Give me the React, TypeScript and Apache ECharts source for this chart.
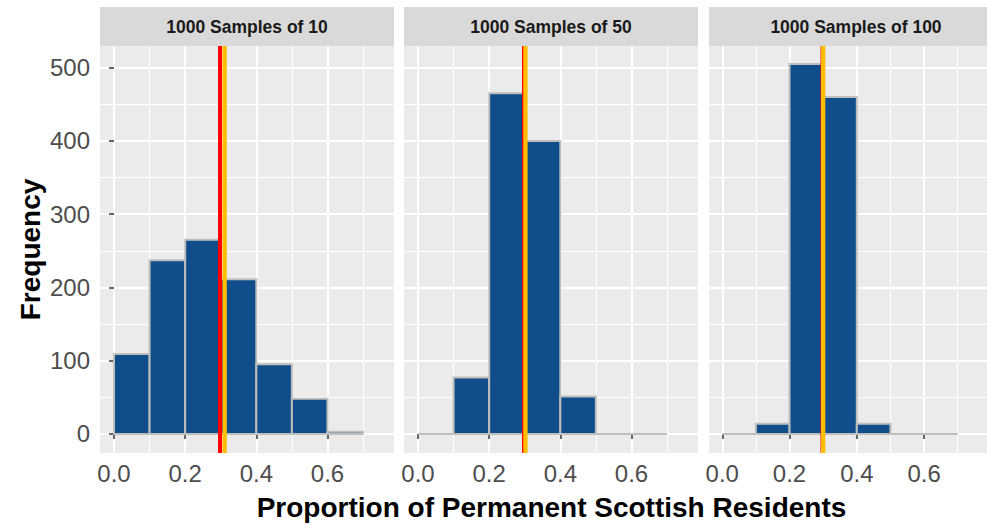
import React, { useEffect, useRef } from "react";
import * as echarts from "echarts";

// ---- data ----
const binEdges = [0, 0.1, 0.2, 0.3, 0.4, 0.5, 0.6, 0.7];
const panelTitles = ["1000 Samples of 10", "1000 Samples of 50", "1000 Samples of 100"];
const counts10 = [109, 237, 265, 211, 95, 48, 3];
const counts50 = [0, 77, 465, 400, 51, 0, 0];
const counts100 = [0, 14, 505, 460, 14, 0, 0];
const populationProportion = 0.298;
const sampleMeans = [0.311, 0.302, 0.3];
const xTicks = [0, 0.2, 0.4, 0.6];
const yTicks = [0, 100, 200, 300, 400, 500];
const xTitle = "Proportion of Permanent Scottish Residents";
const yTitle = "Frequency";

const FONT = "'Liberation Sans', Arial, Helvetica, sans-serif";
const FILL = "#104E8B";
const BORDER = "#BEBEBE";
const RED = "#FF0000";
const ORANGE = "#FFBE00";

const X_MIN = -0.0394;
const X_MAX = 0.787;
const Y_MIN = -26;
const Y_MAX = 529.5;

const PANEL_LEFTS = [100, 404, 709];
const PANEL_W = 294;
const PANEL_TOP = 46;
const PANEL_H = 407;
const STRIP_TOP = 7;

export default function App() {
  const ref = useRef<HTMLDivElement>(null);

  useEffect(() => {
    if (!ref.current) return;
    const chart = echarts.init(ref.current, null, { renderer: "svg" });
    const panels = [counts10, counts50, counts100];

    const grids = PANEL_LEFTS.map((l) => ({
      left: l,
      top: PANEL_TOP,
      width: PANEL_W,
      height: PANEL_H,
      show: true,
      backgroundColor: "#EBEBEB",
      borderWidth: 0,
      containLabel: false,
    }));

    const tickLine = { color: "#333333", width: 1.5 };

    const xAxes = PANEL_LEFTS.map((_, i) => ({
      type: "value",
      gridIndex: i,
      min: X_MIN,
      max: X_MAX,
      splitNumber: 4,
      axisLine: { show: false },
      axisTick: { show: true, length: 5, lineStyle: tickLine, customValues: xTicks },
      axisLabel: {
        show: true,
        margin: 8,
        color: "#4D4D4D",
        fontSize: 24,
        fontFamily: FONT,
        customValues: xTicks,
        formatter: (v: number) => v.toFixed(1),
      },
      splitLine: { show: true, lineStyle: { color: "#FFFFFF", width: 2 } },
      minorTick: { show: false, splitNumber: 2 },
      minorSplitLine: { show: true, lineStyle: { color: "#FFFFFF", width: 1 } },
    }));

    const yAxes = PANEL_LEFTS.map((_, i) => ({
      type: "value",
      gridIndex: i,
      min: Y_MIN,
      max: Y_MAX,
      splitNumber: 5,
      axisLine: { show: false },
      axisTick: { show: i === 0, length: 5, lineStyle: tickLine, customValues: yTicks },
      axisLabel: {
        show: i === 0,
        margin: 10,
        color: "#4D4D4D",
        fontSize: 24,
        fontFamily: FONT,
        customValues: yTicks,
      },
      splitLine: { show: true, lineStyle: { color: "#FFFFFF", width: 2 } },
      minorTick: { show: false, splitNumber: 2 },
      minorSplitLine: { show: true, lineStyle: { color: "#FFFFFF", width: 1 } },
    }));

    const series: any[] = [];
    panels.forEach((counts, i) => {
      series.push({
        type: "custom",
        xAxisIndex: i,
        yAxisIndex: i,
        clip: true,
        data: counts.map((c, j) => [binEdges[j], binEdges[j + 1], c]),
        encode: { x: [0, 1], y: 2 },
        renderItem: (params: any, api: any) => {
          const x0 = api.value(0);
          const x1 = api.value(1);
          const c = api.value(2);
          const pTop = api.coord([x0, c]);
          const pBot = api.coord([x1, 0]);
          if (c === 0) {
            return {
              type: "line",
              shape: { x1: pTop[0], y1: pBot[1], x2: pBot[0], y2: pBot[1] },
              style: { stroke: BORDER, lineWidth: 2 },
            };
          }
          return {
            type: "rect",
            shape: { x: pTop[0], y: pTop[1], width: pBot[0] - pTop[0], height: pBot[1] - pTop[1] },
            style: { fill: FILL, stroke: BORDER, lineWidth: 2 },
          };
        },
      });
      const vline = (value: number, color: string, width: number) => ({
        type: "custom",
        xAxisIndex: i,
        yAxisIndex: i,
        clip: true,
        data: [[value, 0]],
        encode: { x: 0, y: 1 },
        renderItem: (params: any, api: any) => {
          const x = api.coord([api.value(0), 0])[0];
          const cs = params.coordSys;
          return {
            type: "line",
            shape: { x1: x, y1: cs.y, x2: x, y2: cs.y + cs.height },
            style: { stroke: color, lineWidth: width },
          };
        },
      });
      series.push(vline(populationProportion, RED, 4));
      series.push(vline(sampleMeans[i], ORANGE, 4.3));
    });

    const graphic: any[] = [];
    PANEL_LEFTS.forEach((l, i) => {
      graphic.push({
        type: "rect",
        silent: true,
        shape: { x: l, y: STRIP_TOP, width: PANEL_W, height: PANEL_TOP - STRIP_TOP },
        style: { fill: "#D9D9D9" },
      });
      graphic.push({
        type: "text",
        silent: true,
        x: l + PANEL_W / 2,
        y: (STRIP_TOP + PANEL_TOP) / 2,
        style: {
          text: panelTitles[i],
          fill: "#1A1A1A",
          font: `bold 17.5px ${FONT}`,
          align: "center",
          verticalAlign: "middle",
        },
      });
    });
    graphic.push({
      type: "text",
      silent: true,
      x: 30,
      y: PANEL_TOP + PANEL_H / 2,
      rotation: Math.PI / 2,
      style: { text: yTitle, fill: "#000000", font: `bold 28px ${FONT}`, align: "center", verticalAlign: "middle" },
    });
    graphic.push({
      type: "text",
      silent: true,
      x: 551.5,
      y: 507,
      style: { text: xTitle, fill: "#000000", font: `bold 28px ${FONT}`, align: "center", verticalAlign: "middle" },
    });

    chart.setOption({
      animation: false,
      backgroundColor: "#FFFFFF",
      grid: grids,
      xAxis: xAxes,
      yAxis: yAxes,
      series,
      graphic,
    });

    return () => {
      chart.dispose();
    };
  }, []);

  return (
    <div
      ref={ref}
      style={{ position: "absolute", left: 0, top: 0, width: 987, height: 525, overflow: "hidden" }}
    />
  );
}
